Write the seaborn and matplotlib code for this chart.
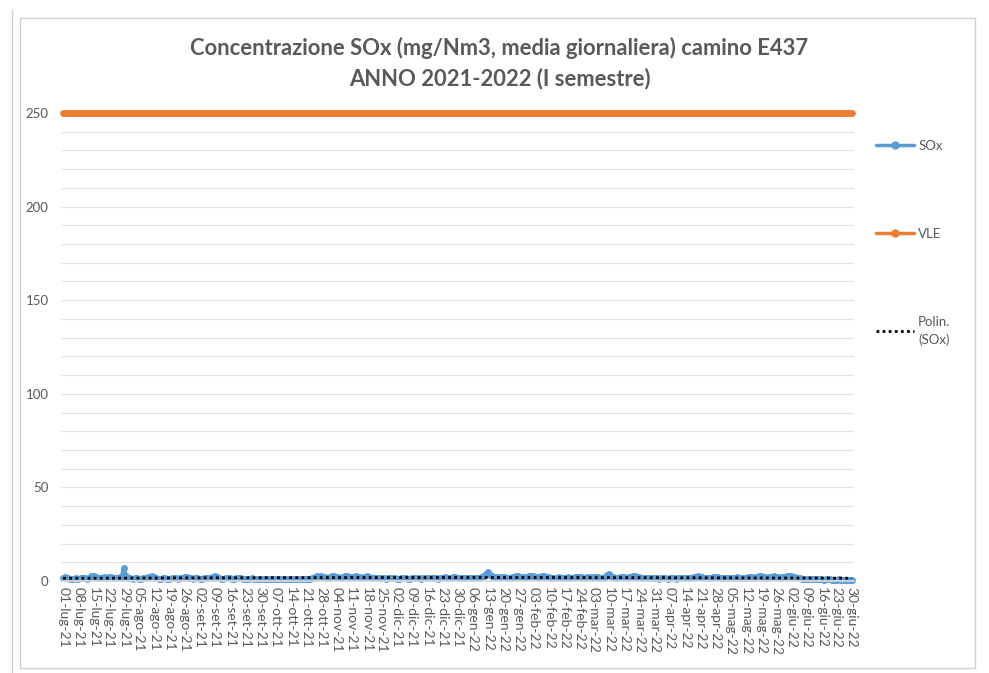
import numpy as np
import pandas as pd
import matplotlib
matplotlib.use("Agg")
import matplotlib.pyplot as plt
import seaborn as sns
from matplotlib.patches import Rectangle
from matplotlib.lines import Line2D

sns.set_theme(style="white")
plt.rcParams['font.family'] = ['Lato', 'DejaVu Sans']

# ---- data (daily SOx, mg/Nm3) ----
lug = [1.5,2.2,1.8,1.2,1.0,1.3,1.6,1.2,1.4,1.8,1.5,1.3,1.6,2.5,2.8,2.0,1.6,1.4,1.8,2.0,1.7,2.2,1.9,1.6,1.5,1.8,2.0,1.7,6.8,2.5,1.6]
ago = [1.4,1.2,1.5,1.8,1.3,1.2,1.5,1.6,2.0,2.4,2.8,2.2,1.6,1.3,1.2,1.4,1.5,1.3,1.2,1.4,1.6,1.5,1.3,1.4,1.8,2.3,2.0,1.6,1.4,1.3,1.5]
sett = [1.4,1.2,1.3,1.5,1.6,1.4,1.8,2.4,2.7,2.0,1.5,1.3,1.2,1.4,1.6,1.5,1.3,1.2,1.4,1.6,1.5,1.3,1.2,1.1,1.3,1.4,1.2,1.1,1.0,1.2]
ott = [1.1,1.0,0.9,1.0,1.2,1.3,1.1,1.0,0.9,1.0,1.1,1.0,0.9,1.0,1.1,1.2,1.0,0.9,1.0,1.1,1.2,1.0,1.1,1.5,2.2,2.6,2.3,2.8,2.4,2.0,1.8]
nov = [2.2,2.6,2.9,2.4,2.0,1.8,2.1,2.5,2.8,2.3,2.0,2.4,2.7,2.2,1.9,1.7,2.0,2.6,2.2,1.8,1.6,1.5,1.7,1.6,1.4,1.5,1.3,1.4,1.6,1.5]
dic = [1.4,1.2,1.3,1.5,1.6,1.4,1.3,1.2,1.5,1.8,1.6,1.4,1.3,1.5,1.7,1.5,1.4,1.6,1.8,1.5,1.3,1.4,1.6,1.9,1.7,1.5,1.8,2.0,2.2,1.8,1.6]
gen = [1.5,1.4,1.6,1.8,1.7,1.5,1.4,1.6,1.8,2.0,2.6,3.8,4.8,3.2,2.6,2.2,2.0,1.8,1.9,2.2,2.0,1.8,1.6,1.9,2.2,2.6,2.8,2.4,2.0,1.8,2.2]
feb = [2.5,2.8,2.6,2.3,2.0,2.2,2.6,2.9,2.4,2.0,1.8,1.6,1.5,1.7,1.9,1.6,1.5,1.7,2.0,1.8,1.6,1.9,2.2,2.4,2.0,1.8,1.7,1.9]
mar = [2.0,1.8,1.9,2.2,2.0,1.8,1.7,2.2,3.2,3.9,2.8,2.0,1.8,1.6,1.9,2.2,2.0,1.8,2.1,2.4,2.8,2.5,2.1,1.9,1.7,1.6,1.8,1.5,1.4,1.6,1.5]
apr = [1.4,1.3,1.5,1.7,1.5,1.3,1.4,1.6,1.5,1.3,1.4,1.6,1.8,1.6,1.4,1.5,1.7,1.9,2.2,2.6,2.3,1.9,1.7,1.5,1.6,1.8,2.0,2.2,1.9,1.7]
mag = [1.5,1.6,1.8,1.6,1.4,1.5,1.7,1.9,1.7,1.5,1.6,1.8,2.0,2.2,1.9,1.7,2.1,2.6,2.8,2.3,2.0,1.8,2.0,2.3,2.6,2.2,1.9,1.8,2.1,2.4,2.6]
giu = [2.8,2.5,2.2,2.0,1.7,1.5,1.3,1.2,1.1,1.0,1.0,0.9,1.0,1.1,1.0,0.9,0.8,0.9,1.0,0.9,0.8,0.7,0.8,0.9,0.8,0.7,0.6,0.7,0.6,0.5]

sox = lug + ago + sett + ott + nov + dic + gen + feb + mar + apr + mag + giu
vle_value = 250
start_date = "2021-07-01"
mesi = ["gen", "feb", "mar", "apr", "mag", "giu", "lug", "ago", "set", "ott", "nov", "dic"]
y_ticks = [0, 50, 100, 150, 200, 250]

title = "Concentrazione SOx (mg/Nm3, media giornaliera) camino E437\nANNO 2021-2022 (I semestre)"

dates = pd.date_range(start_date, periods=len(sox), freq="D")
idx = np.arange(len(sox))
df = pd.DataFrame({"idx": idx, "SOx": sox, "VLE": [vle_value] * len(sox)})

fig = plt.figure(figsize=(9.89, 6.73), dpi=100)
ax = fig.add_axes([61 / 989, 1 - 581 / 673, (854 - 61) / 989, (581 - 113) / 673])

blue = "#5B9BD5"
orange = "#ED7D31"
gray = "#595959"

sns.lineplot(data=df, x="idx", y="VLE", ax=ax, color=orange, linewidth=5, clip_on=False,
             solid_capstyle="round")
sns.lineplot(data=df, x="idx", y="SOx", ax=ax, color=blue, linewidth=3.2, marker="o",
             markersize=5, markeredgewidth=0, clip_on=False)

coef = np.polyfit(idx, np.array(sox), 2)
trend = np.polyval(coef, idx)
ax.plot(idx, trend, color="black", linewidth=2, linestyle=(0, (1, 1.2)), zorder=5, clip_on=False)

ax.set_xlim(-1, len(sox))
ax.set_ylim(0, 250)
ax.set_yticks(y_ticks)
ax.set_yticks(np.arange(0, 251, 10), minor=True)
ax.yaxis.grid(True, which="both", color="#E3E3E3", linewidth=0.9)
ax.set_axisbelow(True)

tick_pos = idx[::7]
tick_labels = [f"{d.day:02d}-{mesi[d.month - 1]}-{d.year % 100:02d}" for d in dates[::7]]
ax.set_xticks(tick_pos)
ax.set_xticklabels(tick_labels, rotation=-90, fontsize=10, color=gray)
ax.tick_params(axis="y", labelsize=9.5, colors=gray, length=0, pad=9)
ax.tick_params(axis="x", length=0, pad=4)
ax.tick_params(axis="y", which="minor", length=0)
for lab in ax.get_yticklabels():
    lab.set_color(gray)
ax.set_xlabel("")
ax.set_ylabel("")
for s in ["top", "right", "left"]:
    ax.spines[s].set_visible(False)
ax.spines["bottom"].set_color("#D9D9D9")

fig.text(0.505, 1 - 63.5 / 673, title, ha="center", va="center", fontsize=15.8,
         fontweight="bold", color=gray, linespacing=1.5)

handles = [
    Line2D([0], [0], color=blue, linewidth=2.5, marker="o", markersize=5),
    Line2D([0], [0], color=orange, linewidth=2.5, marker="o", markersize=5),
    Line2D([0], [0], color="black", linewidth=2, linestyle=(0, (1, 1.2))),
]
leg = fig.legend(handles, ["SOx", "VLE", "Polin.\n(SOx)"], loc="upper left",
                 bbox_to_anchor=(864 / 989, 1 - 128 / 673), frameon=False, fontsize=9.5,
                 labelspacing=5.75, handlelength=2.9, handletextpad=0.3)
for t in leg.get_texts():
    t.set_color(gray)
    t.set_linespacing(1.6)

fig.patches.append(Rectangle((20 / 989, 1 - 668 / 673), (975 - 20) / 989, (668 - 18) / 673,
                             transform=fig.transFigure, fill=False, edgecolor="#D0D0D0",
                             linewidth=1))
fig.lines.append(Line2D([12 / 989, 12 / 989], [0, 1 - 10 / 673], transform=fig.transFigure,
                        color="#D0D0D0", linewidth=1))

fig.savefig("out.png", dpi=100)
